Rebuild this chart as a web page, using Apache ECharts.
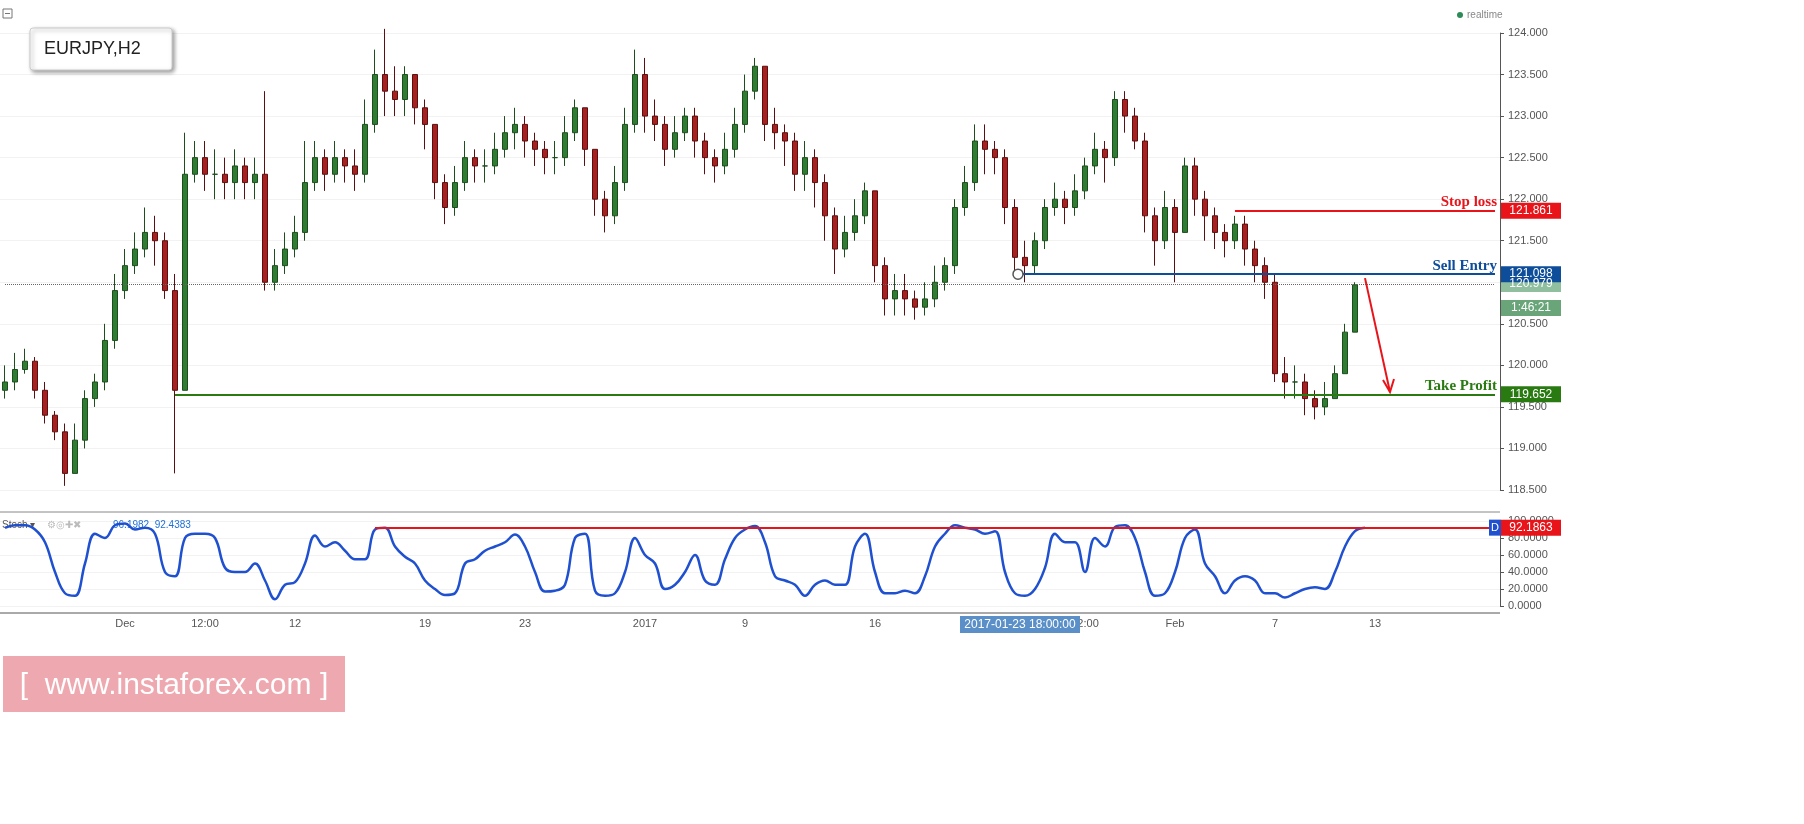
<!DOCTYPE html>
<html><head><meta charset="utf-8">
<script src="https://cdn.jsdelivr.net/npm/echarts@6/dist/echarts.min.js"></script>
<style>html,body{margin:0;padding:0;background:#fff}#c{width:1804px;height:824px}</style>
</head><body><div id="c"></div>
<script>
const closes=[119.8,119.95,120.05,119.7,119.4,119.2,118.7,119.1,119.6,119.8,120.3,120.9,121.2,121.4,121.6,121.5,120.9,119.7,122.3,122.5,
122.3,122.3,122.2,122.4,122.2,122.3,121.0,121.2,121.4,121.6,122.2,122.5,122.3,122.5,122.4,122.3,122.9,123.5,123.3,123.2,
123.5,123.1,122.9,122.2,121.9,122.2,122.5,122.4,122.4,122.6,122.8,122.9,122.7,122.6,122.5,122.5,122.8,123.1,122.6,122.0,
121.8,122.2,122.9,123.5,123.0,122.9,122.6,122.8,123.0,122.7,122.5,122.4,122.6,122.9,123.3,123.6,122.9,122.8,122.7,122.3,
122.5,122.2,121.8,121.4,121.6,121.8,122.1,121.2,120.8,120.9,120.8,120.7,120.8,121.0,121.2,121.9,122.2,122.7,122.6,122.5,
121.9,121.3,121.2,121.5,121.9,122.0,121.9,122.1,122.4,122.6,122.5,123.2,123.0,122.7,121.8,121.5,121.9,121.6,122.4,122.0,
121.8,121.6,121.5,121.7,121.4,121.2,121.0,119.9,119.8,119.8,119.6,119.5,119.6,119.9,120.4,120.97];
const highs=[120.0,120.15,120.2,120.1,119.8,119.45,119.3,119.3,119.7,119.9,120.5,121.1,121.4,121.6,121.9,121.8,121.6,121.1,122.8,122.7,
122.7,122.6,122.5,122.6,122.5,122.5,123.3,121.4,121.6,121.8,122.7,122.7,122.6,122.7,122.6,122.6,123.2,123.8,124.05,123.6,
123.6,123.5,123.2,122.9,122.3,122.4,122.7,122.6,122.6,122.8,123.0,123.1,123.0,122.8,122.7,122.7,123.0,123.2,123.1,122.6,
122.1,122.4,123.1,123.8,123.7,123.2,123.0,123.0,123.1,123.1,122.8,122.6,122.8,123.1,123.5,123.7,123.6,123.1,122.9,122.8,
122.7,122.6,122.3,121.9,121.8,122.0,122.2,122.1,121.3,121.1,121.1,120.9,121.0,121.2,121.3,122.0,122.4,122.9,122.9,122.7,
122.6,122.0,121.5,121.6,122.0,122.2,122.1,122.3,122.5,122.8,122.7,123.3,123.3,123.1,122.8,121.9,122.1,122.0,122.5,122.5,
122.1,121.9,121.7,121.8,121.8,121.5,121.3,121.1,120.1,120.0,119.9,119.7,119.8,120.0,120.5,121.0];
const lows=[119.6,119.7,119.9,119.6,119.3,119.1,118.55,118.7,119.0,119.5,119.7,120.2,120.8,121.1,121.3,121.2,120.8,118.7,119.7,122.2,
122.1,122.0,122.0,122.0,122.0,122.0,120.9,120.9,121.1,121.3,121.5,122.1,122.1,122.2,122.2,122.1,122.2,122.8,123.0,123.0,
123.0,122.9,122.6,122.0,121.7,121.8,122.1,122.2,122.2,122.3,122.5,122.6,122.5,122.4,122.3,122.3,122.4,122.7,122.4,121.8,
121.6,121.7,122.1,122.8,122.8,122.7,122.4,122.5,122.7,122.5,122.3,122.2,122.3,122.5,122.8,123.2,122.7,122.6,122.4,122.1,
122.1,121.9,121.5,121.1,121.3,121.5,121.7,121.0,120.6,120.6,120.6,120.55,120.6,120.7,120.9,121.1,121.8,122.1,122.3,122.3,
121.7,121.1,121.0,121.1,121.4,121.8,121.7,121.8,122.0,122.3,122.2,122.4,122.8,122.6,121.6,121.2,121.4,121.0,121.6,121.8,
121.5,121.4,121.3,121.4,121.2,121.0,120.8,119.8,119.6,119.6,119.4,119.35,119.4,119.6,119.9,120.4];
const stoch=[92,95,95,90,75,40,15,12,50,85,80,95,97,90,92,85,40,35,80,85,
85,80,45,40,40,50,30,8,25,28,50,83,70,75,65,55,55,90,92,70,
58,50,30,20,13,15,50,55,65,70,75,84,70,40,17,18,25,80,85,18,
12,15,40,80,60,50,20,25,40,60,30,25,55,80,90,94,75,35,30,25,
12,25,30,25,25,70,85,40,15,15,18,15,35,70,85,95,92,90,85,88,
40,15,12,20,45,85,75,75,40,80,70,93,95,80,40,12,15,40,80,90,
50,35,15,30,35,30,15,15,10,15,20,22,20,40,70,88,92];
const tickLabels=[[12,'Dec'],[20,'12:00'],[29,'12'],[42,'19'],[52,'23'],[64,'2017'],[74,'9'],[87,'16'],[108,'12:00'],[117,'Feb'],[127,'7'],[137,'13']];
const levels={stop:121.861,entry:121.098,last:120.979,tp:119.652,stochLine:92.1863};

const N=150;
const cats=[];for(let i=0;i<N;i++)cats.push(String(i));
const labelMap={};tickLabels.forEach(t=>labelMap[t[0]]=t[1]);
const candles=closes.map((c,i)=>[i===0?119.7:closes[i-1],c,lows[i],highs[i]]);

const chart=echarts.init(document.getElementById('c'));
const axisFont={color:'#555',fontSize:11,fontFamily:'Arial'};
chart.setOption({
 animation:false,
 grid:[{left:0,right:304,top:33,height:457},{left:0,right:304,top:521,height:85}],
 xAxis:[{type:'category',data:cats,gridIndex:0,axisLabel:{show:false},axisTick:{show:false},axisLine:{show:false},splitLine:{show:false}},
  {type:'category',data:cats,gridIndex:1,axisTick:{show:false},axisLine:{show:false},
   axisLabel:{...axisFont,interval:0,margin:12,formatter:(v,i)=>labelMap[i]||''}}],
 yAxis:[{gridIndex:0,position:'right',min:118.5,max:124,interval:0.5,axisLine:{show:true,lineStyle:{color:'#555'}},axisTick:{show:true,length:4},
   axisLabel:{...axisFont,formatter:v=>v.toFixed(3),margin:8},splitLine:{lineStyle:{color:'#f2f2f2'}}},
  {gridIndex:1,position:'right',min:0,max:100,interval:20,axisLine:{show:true,lineStyle:{color:'#555'}},axisTick:{show:true,length:4},
   axisLabel:{...axisFont,formatter:v=>v.toFixed(4),margin:8},splitLine:{lineStyle:{color:'#f2f2f2'}}}],
 series:[
  {type:'candlestick',xAxisIndex:0,yAxisIndex:0,data:candles,barWidth:5,clip:false,
   itemStyle:{color:'#2f7d32',color0:'#a82020',borderColor:'#1e4d1e',borderColor0:'#5a1010',borderWidth:1},
   markLine:{symbol:'none',silent:true,label:{show:false},data:[
    [{coord:['123',levels.stop],lineStyle:{color:'#e8141a',width:2,type:'solid'}},{coord:['149',levels.stop]}],
    [{coord:['101',levels.entry],lineStyle:{color:'#0d4d9a',width:2,type:'solid'}},{coord:['149',levels.entry]}],
    [{coord:['17',levels.tp],lineStyle:{color:'#2a7a12',width:2,type:'solid'}},{coord:['149',levels.tp]}],
    [{coord:['0',levels.last],lineStyle:{color:'#666',width:1,type:'dotted'}},{coord:['149',levels.last]}]
   ]}},
  {type:'line',xAxisIndex:1,yAxisIndex:1,data:stoch,showSymbol:false,smooth:0.4,lineStyle:{color:'#1f50d0',width:2.5},
   markLine:{symbol:'none',silent:true,label:{show:false},data:[[{coord:['37',levels.stochLine],lineStyle:{color:'#e8141a',width:2,type:'solid'}},{coord:['149',levels.stochLine]}]]}}
 ]
});
function py(v){return chart.convertToPixel({yAxisIndex:0},v);}
function sy(v){return chart.convertToPixel({yAxisIndex:1},v);}
function ptx(i){return chart.convertToPixel({xAxisIndex:0},String(i));}
function box(y,txt,bg,col){return [{type:'rect',shape:{x:1501,y:y-8,width:60,height:16},style:{fill:bg},z:50},
 {type:'text',x:1531,y:y,style:{text:txt,fill:col||'#fff',font:'12px Arial',align:'center',verticalAlign:'middle'},z:51}];}
const ax1=ptx(135)+10, ay1=py(121.05), ax2=ax1+25, ay2=py(119.68);
const g=[
 {type:'line',shape:{x1:0,y1:512,x2:1500,y2:512},style:{stroke:'#888',lineWidth:1}},
 {type:'line',shape:{x1:0,y1:613,x2:1500,y2:613},style:{stroke:'#555',lineWidth:1}},
 {type:'rect',shape:{x:30,y:28,width:142,height:42,r:3},style:{fill:'#fff',stroke:'#ccc',shadowBlur:4,shadowOffsetX:2,shadowOffsetY:2,shadowColor:'rgba(0,0,0,0.4)'},z:40},
 {type:'text',x:44,y:49,style:{text:'EURJPY,H2',fill:'#222',font:'18px Arial',verticalAlign:'middle'},z:41},
 {type:'rect',shape:{x:3,y:9,width:9,height:9},style:{fill:'#fff',stroke:'#777'}},
 {type:'line',shape:{x1:5,y1:13.5,x2:10,y2:13.5},style:{stroke:'#777'}},
 {type:'circle',shape:{cx:1460,cy:15,r:3},style:{fill:'#2e8b57'}},
 {type:'text',x:1467,y:15,style:{text:'realtime',fill:'#888',font:'10px Arial',verticalAlign:'middle'}},
 {type:'text',x:2,y:525,style:{text:'Stoch ▾',fill:'#555',font:'10px Arial',verticalAlign:'middle'}},
 {type:'text',x:47,y:525,style:{text:'⚙◎✚✖',fill:'#bbb',font:'10px Arial',verticalAlign:'middle'}},
 {type:'text',x:113,y:525,style:{text:'96.1982  92.4383',fill:'#1e6fd9',font:'10px Arial',verticalAlign:'middle'}},
 {type:'circle',shape:{cx:ptx(101)+3,cy:py(levels.entry),r:5},style:{fill:'#fff',stroke:'#555',lineWidth:1.5},z:30},
 {type:'line',shape:{x1:ax1,y1:ay1,x2:ax2,y2:ay2},style:{stroke:'#e8141a',lineWidth:2},z:30},
 {type:'polyline',shape:{points:[[ax2-7,ay2-12],[ax2,ay2],[ax2+4,ay2-13]]},style:{stroke:'#e8141a',lineWidth:2,fill:null},z:30},
 {type:'text',x:1497,y:py(levels.stop)-9,style:{text:'Stop loss',fill:'#e8141a',font:'bold 15px serif',align:'right',verticalAlign:'middle'},z:30},
 {type:'text',x:1497,y:py(levels.entry)-8,style:{text:'Sell Entry',fill:'#0d4d9a',font:'bold 15px serif',align:'right',verticalAlign:'middle'},z:30},
 {type:'text',x:1497,y:py(levels.tp)-8,style:{text:'Take Profit',fill:'#2a7a12',font:'bold 15px serif',align:'right',verticalAlign:'middle'},z:30},
 ...box(py(levels.stop),'121.861','#e8141a'),
 ...box(py(levels.last),'120.979','#8fbf9f'),
 ...box(py(levels.entry),'121.098','#0d4d9a'),
 ...box(py(120.979)+24,'1:46:21','#6aa57a'),
 ...box(py(levels.tp),'119.652','#2a7a12'),
 ...box(sy(levels.stochLine),'92.1863','#e8141a'),
 {type:'rect',shape:{x:1489,y:sy(levels.stochLine)-8,width:12,height:16},style:{fill:'#1f50d0'},z:50},
 {type:'text',x:1495,y:sy(levels.stochLine),style:{text:'D',fill:'#fff',font:'11px Arial',align:'center',verticalAlign:'middle'},z:51},
 {type:'rect',shape:{x:960,y:616,width:120,height:17},style:{fill:'#5a8fc8'},z:50},
 {type:'text',x:1020,y:625,style:{text:'2017-01-23 18:00:00',fill:'#fff',font:'12px Arial',align:'center',verticalAlign:'middle'},z:51},
 {type:'rect',shape:{x:3,y:656,width:342,height:56},style:{fill:'rgba(232,140,150,0.75)'},z:60},
 {type:'text',x:174,y:686,style:{text:'[  www.instaforex.com ]',fill:'#fff',font:'30px Arial',align:'center',verticalAlign:'middle'},z:61}
];
chart.setOption({graphic:g});
</script></body></html>
